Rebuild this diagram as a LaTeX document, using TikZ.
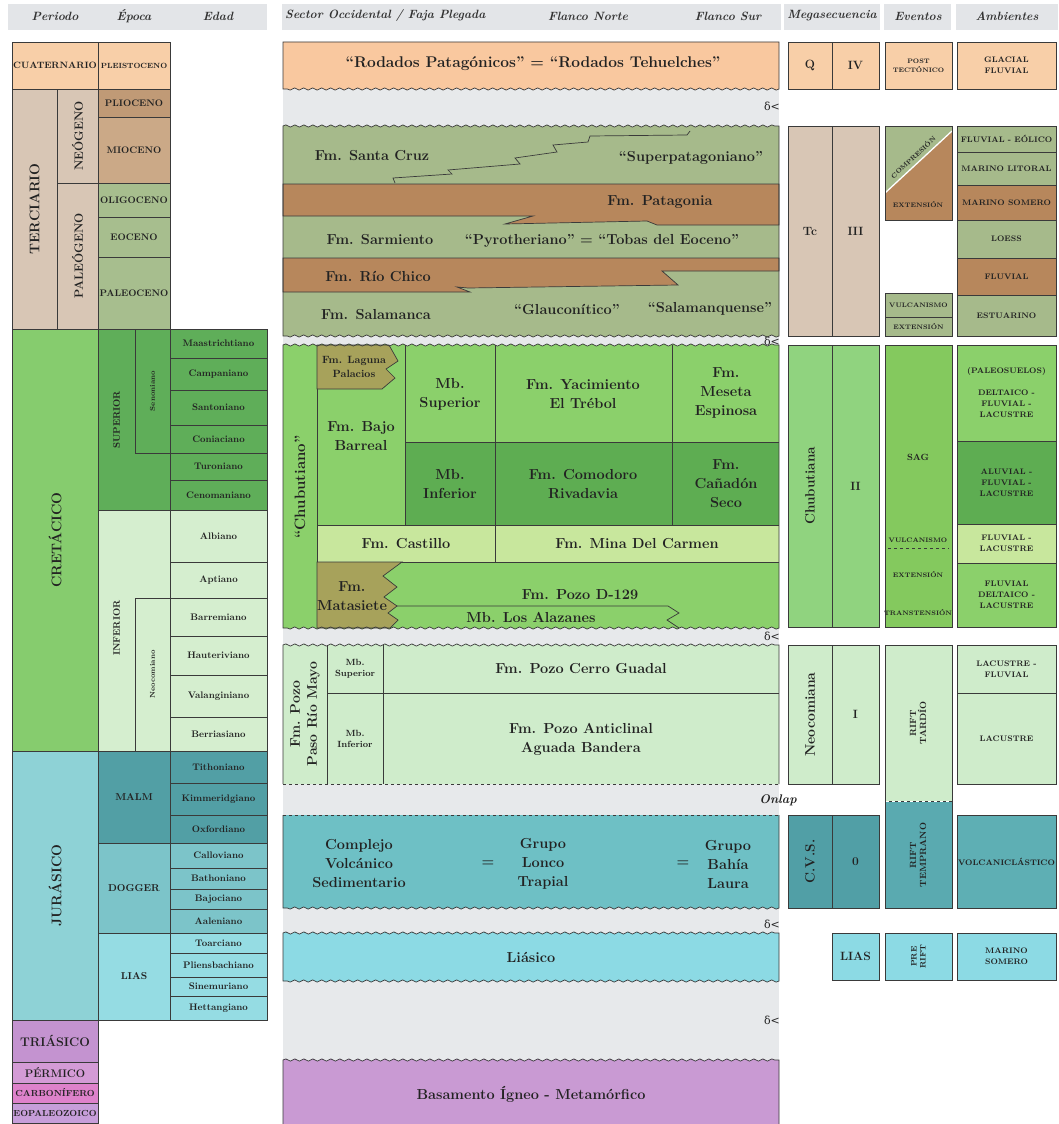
\documentclass[tikz,border=0pt]{standalone}
\usepackage{fontspec}
\newfontfamily\grk{DejaVu Serif}
\usetikzlibrary{decorations.pathmorphing}
\definecolor{cHdr}{HTML}{E3E5E8}
\definecolor{cHdrTxt}{HTML}{333333}
\definecolor{cGap}{HTML}{E7E9EB}
\definecolor{cPeach}{HTML}{F8CFA8}
\definecolor{cPeachB}{HTML}{F9C89F}
\definecolor{cTerc}{HTML}{D8C6B5}
\definecolor{cPlio}{HTML}{C09A76}
\definecolor{cMio}{HTML}{CBA987}
\definecolor{cPaleo}{HTML}{A7BE8E}
\definecolor{cTGreen}{HTML}{A6BA8B}
\definecolor{cTBrown}{HTML}{B7875C}
\definecolor{cCreta}{HTML}{86CC6E}
\definecolor{cSup}{HTML}{5FAE59}
\definecolor{cInf}{HTML}{D5EECF}
\definecolor{cChub}{HTML}{8BD06B}
\definecolor{cChubM}{HTML}{90D37F}
\definecolor{cChubD}{HTML}{5EAD52}
\definecolor{cChubL}{HTML}{C8E79D}
\definecolor{cSag}{HTML}{84C95E}
\definecolor{cKhaki}{HTML}{A7A25B}
\definecolor{cNeoc}{HTML}{CFECCB}
\definecolor{cJura}{HTML}{8ED2D6}
\definecolor{cMalm}{HTML}{529FA5}
\definecolor{cDogger}{HTML}{7CC4C9}
\definecolor{cLias}{HTML}{95DCE3}
\definecolor{cCvs}{HTML}{6EC0C5}
\definecolor{cCvsD}{HTML}{519FA6}
\definecolor{cRiftT}{HTML}{5AAAB0}
\definecolor{cVolc}{HTML}{5EAFB4}
\definecolor{cLiasB}{HTML}{8CDAE4}
\definecolor{cBasam}{HTML}{C99AD3}
\definecolor{cTrias}{HTML}{C493D0}
\definecolor{cPerm}{HTML}{D49BD6}
\definecolor{cCarb}{HTML}{DE82CB}
\definecolor{cEopal}{HTML}{C79EDA}
\definecolor{cInk}{HTML}{222222}
\definecolor{cEdge}{HTML}{3A3A3A}
\newcommand{\fz}[2]{\fontsize{#1}{#2}\selectfont}
\newcommand{\gcell}[8]{%
  \path[ln,fill=#6] (#2,#3) rectangle (#4,#5);
  \node[#7] (#1) at ({(#2+#4)/2},{(#3+#5)/2}) {#8};}
\tikzset{
  ln/.style={draw=cEdge,line width=0.7pt},
  wv/.style={decoration={snake,amplitude=1.1pt,segment length=9pt}},
  tx/.style={text=cInk,align=center,inner sep=0pt},
  hdr/.style={tx,text=cHdrTxt,font=\bfseries\itshape\fz{12}{14}},
  fA/.style={tx,font=\bfseries\fz{14.5}{19}},
  fLg/.style={tx,font=\bfseries\fz{10.5}{14}},
  fMbs/.style={tx,font=\bfseries\fz{9}{11}},
  fRot/.style={tx,font=\bfseries\fz{14}{17}},
  fEra/.style={tx,font=\bfseries\fz{14}{16}},
  fSub/.style={tx,font=\bfseries\fz{12}{14}},
  fEp/.style={tx,font=\bfseries\fz{9.5}{11}},
  fEpB/.style={tx,font=\bfseries\fz{10}{12}},
  fPl/.style={tx,font=\bfseries\fz{7.5}{9}},
  fCu/.style={tx,font=\bfseries\fz{9.2}{11}},
  fAge/.style={tx,font=\bfseries\fz{9.5}{11}},
  fTiny/.style={tx,font=\bfseries\fz{7}{8}},
  fTr/.style={tx,font=\bfseries\fz{12.5}{14}},
  fPe/.style={tx,font=\bfseries\fz{11}{13}},
  fCa/.style={tx,font=\bfseries\fz{8.8}{10}},
  fMs/.style={tx,font=\bfseries\fz{12}{14}},
  fMsR/.style={tx,font=\bfseries\fz{13.5}{15}},
  fEv/.style={tx,font=\bfseries\fz{6.5}{9}},
  fEvB/.style={tx,font=\bfseries\fz{9}{10}},
  fAm/.style={tx,font=\bfseries\fz{8}{11}},
  dl/.style={tx,font=\grk\fz{11}{13}},
}
\begin{document}
\begin{tikzpicture}[x=1pt,y=-1pt]
\useasboundingbox (0,0) rectangle (1058,1124);
\fill[white] (0,0) rectangle (1058,1124);
% ---------------- header
\fill[cHdr] (8,4) rectangle (267,30);
\fill[cHdr] (282,4) rectangle (781,30);
\fill[cHdr] (784,4) rectangle (880,30);
\fill[cHdr] (884,4) rectangle (951,30);
\fill[cHdr] (956,4) rectangle (1058,30);
\node[hdr] (hper) at (55,16) {Periodo};
\node[hdr] (hepo) at (134,16) {Época};
\node[hdr] (heda) at (218,16) {Edad};
\node[hdr,anchor=west] (hsec) at (285,16) {Sector Occidental / Faja Plegada};
\node[hdr] (hfn) at (588,16) {Flanco Norte};
\node[hdr] (hfs) at (728,16) {Flanco Sur};
\node[hdr] (hmeg) at (832,16) {Megasecuencia};
\node[hdr] (hev) at (918,16) {Eventos};
\node[hdr] (hamb) at (1007,16) {Ambientes};
% ---------------- left: time scale
\gcell{cuat}{12}{42}{98}{89}{cPeach}{fCu}{CUATERNARIO}
\gcell{pleis}{98}{42}{170}{89}{cPeach}{fPl}{PLEISTOCENO}
\gcell{terc}{12}{89}{57}{329}{cTerc}{fEra,rotate=90}{TERCIARIO}
\gcell{neog}{57}{89}{98}{183}{cTerc}{fSub,rotate=90}{NEÓGENO}
\gcell{paleog}{57}{183}{98}{329}{cTerc}{fSub,rotate=90}{PALEÓGENO}
\gcell{plio}{98}{89}{170}{117}{cPlio}{fEp}{PLIOCENO}
\gcell{mio}{98}{117}{170}{183}{cMio}{fEp}{MIOCENO}
\gcell{olig}{98}{183}{170}{217}{cPaleo}{fEp}{OLIGOCENO}
\gcell{eoc}{98}{217}{170}{257}{cPaleo}{fEp}{EOCENO}
\gcell{paleoc}{98}{257}{170}{329}{cPaleo}{fEp}{PALEOCENO}
\gcell{creta}{12}{329}{98}{751}{cCreta}{fEra,rotate=90}{CRETÁCICO}
\path[ln,fill=cSup] (98,329) rectangle (170,510);
\node[fEp,rotate=90] (sup) at (116.5,420) {SUPERIOR};
\gcell{seno}{135}{329}{170}{453}{cSup}{fTiny,rotate=90}{Senoniano}
\gcell{maas}{170}{329}{267}{358}{cSup}{fAge}{Maastrichtiano}
\gcell{camp}{170}{358}{267}{390}{cSup}{fAge}{Campaniano}
\gcell{sant}{170}{390}{267}{425}{cSup}{fAge}{Santoniano}
\gcell{coni}{170}{425}{267}{453}{cSup}{fAge}{Coniaciano}
\gcell{turo}{170}{453}{267}{480}{cSup}{fAge}{Turoniano}
\gcell{ceno}{170}{480}{267}{510}{cSup}{fAge}{Cenomaniano}
\path[ln,fill=cInf] (98,510) rectangle (170,751);
\node[fEp,rotate=90] (inf) at (116.5,628) {INFERIOR};
\gcell{neoco}{135}{598}{170}{751}{cInf}{fTiny,rotate=90}{Neocomiano}
\gcell{albi}{170}{510}{267}{562}{cInf}{fAge}{Albiano}
\gcell{apti}{170}{562}{267}{598}{cInf}{fAge}{Aptiano}
\gcell{barr}{170}{598}{267}{636}{cInf}{fAge}{Barremiano}
\gcell{haut}{170}{636}{267}{675}{cInf}{fAge}{Hauteriviano}
\gcell{vala}{170}{675}{267}{717}{cInf}{fAge}{Valanginiano}
\gcell{berr}{170}{717}{267}{751}{cInf}{fAge}{Berriasiano}
\gcell{jura}{12}{751}{98}{1020}{cJura}{fEra,rotate=90}{JURÁSICO}
\gcell{malm}{98}{751}{170}{843}{cMalm}{fEpB}{MALM}
\gcell{tith}{170}{751}{267}{783}{cMalm}{fAge}{Tithoniano}
\gcell{kimm}{170}{783}{267}{815}{cMalm}{fAge}{Kimmeridgiano}
\gcell{oxf}{170}{815}{267}{843}{cMalm}{fAge}{Oxfordiano}
\gcell{dogg}{98}{843}{170}{933}{cDogger}{fEpB}{DOGGER}
\gcell{call}{170}{843}{267}{868}{cDogger}{fAge}{Calloviano}
\gcell{bath}{170}{868}{267}{889}{cDogger}{fAge}{Bathoniano}
\gcell{bajo}{170}{889}{267}{909}{cDogger}{fAge}{Bajociano}
\gcell{aale}{170}{909}{267}{933}{cDogger}{fAge}{Aaleniano}
\gcell{liasl}{98}{933}{170}{1020}{cLias}{fEpB}{LIAS}
\gcell{toar}{170}{933}{267}{953}{cLias}{fAge}{Toarciano}
\gcell{plie}{170}{953}{267}{977}{cLias}{fAge}{Pliensbachiano}
\gcell{sine}{170}{977}{267}{996}{cLias}{fAge}{Sinemuriano}
\gcell{hett}{170}{996}{267}{1020}{cLias}{fAge}{Hettangiano}
\gcell{trias}{12}{1020}{98}{1062}{cTrias}{fTr}{TRIÁSICO}
\gcell{perm}{12}{1062}{98}{1083}{cPerm}{fPe}{PÉRMICO}
\gcell{carb}{12}{1083}{98}{1103}{cCarb}{fCa}{CARBONÍFERO}
\gcell{eopal}{12}{1103}{98}{1123}{cEopal}{fCa}{EOPALEOZOICO}
% ---------------- middle: gaps background
\fill[cGap] (283,86) rectangle (779,1064);
% Rodados
\path[ln,fill=cPeachB,wv] (283,42) -- (779,42) -- (779,89) decorate{-- (283,89)} -- cycle;
\node[fA,font=\bfseries\fz{15.5}{19}] (rodados) at (533,64) {“Rodados Patagónicos” = “Rodados Tehuelches”};
% Tertiary block
\path[fill=cTGreen,wv] (283,126) decorate{-- (779,126)} -- (779,336) decorate{-- (283,336)} -- cycle;
\path[ln,fill=cTBrown] (283,184) -- (779,184) -- (779,225) -- (657,225) -- (647,221) -- (505,224) -- (533,216) -- (283,216) -- cycle;
\path[ln,fill=cTBrown] (283,258) -- (779,258) -- (779,271) -- (662,271) -- (678,285) -- (468,288) -- (457,287) -- (470,292) -- (283,292) -- cycle;
\draw[ln] (395,183) -- (393,178) -- (452,174) -- (448,170) -- (520,164) -- (515,158) -- (557,152) -- (553,145) -- (588,142) -- (590,136) -- (687,135) -- (690,131);
\path[ln,wv] (283,126) decorate{-- (779,126)} -- (779,336) decorate{-- (283,336)} -- cycle;
\node[fA] (stacruz) at (372,156) {Fm. Santa Cruz};
\node[fA] (superpat) at (691,158) {“Superpatagoniano”};
\node[fA] (patag) at (660,202) {Fm. Patagonia};
\node[fA] (sarm) at (380,240) {Fm. Sarmiento};
\node[fA] (pyro) at (602,241) {“Pyrotheriano” = “Tobas del Eoceno”};
\node[fA] (rchico) at (378,276) {Fm. Río Chico};
\node[fA] (salam) at (376,315) {Fm. Salamanca};
\node[fA] (glauc) at (567,309) {“Glauconítico”};
\node[fA] (salq) at (710,309) {“Salamanquense”};
% Chubutiano block
\path[fill=cChub,wv] (283,345) decorate{-- (779,345)} -- (779,628) decorate{-- (283,628)} -- cycle;
\fill[cChubD] (405,442) rectangle (779,525);
\fill[cChubL] (317,525) rectangle (779,562);
\draw[ln] (317,345) -- (317,628);
\draw[ln] (405,345) -- (405,525);
\draw[ln] (495,345) -- (495,562);
\draw[ln] (672,345) -- (672,525);
\draw[ln] (405,442) -- (779,442);
\draw[ln] (317,525) -- (779,525);
\draw[ln] (317,562) -- (779,562);
\path[ln,fill=cKhaki] (317,345) -- (389,345) -- (398,361) -- (386,369) -- (395,378) -- (382,389) -- (317,389) -- cycle;
\path[ln,fill=cKhaki] (317,562) -- (402,562) -- (383,576) -- (397,587) -- (384,597) -- (397,606) -- (388,613) -- (398,620) -- (390,628) -- (317,628) -- cycle;
\draw[ln] (397,606) -- (668,606) -- (679,613) -- (667,620) -- (679,628);
\path[ln,wv] (283,345) decorate{-- (779,345)} -- (779,628) decorate{-- (283,628)} -- cycle;
\node[fRot,font=\bfseries\fz{15}{17},rotate=90] (chubo) at (300,487) {“Chubutiano”};
\node[fLg] (laguna) at (354,367) {Fm. Laguna\\Palacios};
\node[fA] (bajob) at (361,436) {Fm. Bajo\\Barreal};
\node[fA] (mbsup) at (450,394) {Mb.\\Superior};
\node[fA] (yac) at (583,394) {Fm. Yacimiento\\El Trébol};
\node[fA] (meseta) at (726,393) {Fm.\\Meseta\\Espinosa};
\node[fA] (mbinf) at (450,484) {Mb.\\Inferior};
\node[fA] (comod) at (583,484) {Fm. Comodoro\\Rivadavia};
\node[fA] (canadon) at (726,484) {Fm.\\Cañadón\\Seco};
\node[fA] (castillo) at (406,544) {Fm. Castillo};
\node[fA] (mina) at (637,544) {Fm. Mina Del Carmen};
\node[fA] (matas) at (352,596) {Fm.\\Matasiete};
\node[fA] (pozod) at (580,595) {Fm. Pozo D-129};
\node[fA] (alaz) at (531,617) {Mb. Los Alazanes};
% Neocomiano block
\path[fill=cNeoc,wv] (283,645) decorate{-- (779,645)} -- (779,784) -- (283,784) -- cycle;
\draw[ln] (327,645) -- (327,784);
\draw[ln] (383,645) -- (383,784);
\draw[ln] (327,693) -- (779,693);
\path[ln,wv] (283,784) -- (283,645) decorate{-- (779,645)} -- (779,784);
\draw[ln,dashed] (283,784) -- (779,784);
\node[fRot,rotate=90] (pasorm) at (305,714) {Fm. Pozo\\Paso Río Mayo};
\node[fMbs] (mbsup2) at (355,669) {Mb.\\Superior};
\node[fMbs] (mbinf2) at (355,739) {Mb.\\Inferior};
\node[fA] (cguadal) at (581,669) {Fm. Pozo Cerro Guadal};
\node[fA] (antic) at (581,739) {Fm. Pozo Anticlinal\\Aguada Bandera};
\node[tx,font=\bfseries\itshape\fz{12.5}{14}] (onlap) at (778,800) {Onlap};
% CVS block
\path[fill=cCvs,wv] (283,815) -- (779,815) -- (779,908) decorate{-- (283,908)} -- cycle;
\path[ln,wv] (779,815) -- (779,908) decorate{-- (283,908)} -- (283,815);
\draw[ln,dashed] (283,815) -- (779,815);
\node[fA] (cvs1) at (359,864) {Complejo\\Volcánico\\Sedimentario};
\node[fA] (eq1) at (488,864) {=};
\node[fA] (lonco) at (543,864) {Grupo\\Lonco\\Trapial};
\node[fA] (eq2) at (683,864) {=};
\node[fA] (bahia) at (728,864) {Grupo\\Bahía\\Laura};
% Liasico
\path[ln,fill=cLiasB,wv] (283,933) decorate{-- (779,933)} -- (779,981) decorate{-- (283,981)} -- cycle;
\node[fA] (liasico) at (531,957) {Liásico};
% Basamento
\path[ln,fill=cBasam,wv] (283,1124) -- (283,1060) decorate{-- (779,1060)} -- (779,1124);
\node[fA] (basam) at (531,1094) {Basamento Ígneo - Metamórfico};
% unconformity marks
\node[dl] (d1) at (772,106) {δ<};
\node[dl] (d2) at (772,341) {δ<};
\node[dl] (d3) at (772,636) {δ<};
\node[dl] (d4) at (772,924) {δ<};
\node[dl] (d5) at (772,1020) {δ<};
% ---------------- right columns
\gcell{q}{788}{42}{832}{89}{cPeach}{fMs}{Q}
\gcell{iv}{832}{42}{879}{89}{cPeach}{fMs}{IV}
\gcell{post}{885}{42}{952}{89}{cPeach}{fEv}{POST\\TECTÓNICO}
\gcell{glac}{957}{42}{1056}{89}{cPeach}{fAm}{GLACIAL\\FLUVIAL}
\gcell{tc}{788}{126}{832}{336}{cTerc}{fMs}{Tc}
\gcell{iii}{832}{126}{879}{336}{cTerc}{fMs}{III}
\fill[cTBrown] (885,126) rectangle (952,220);
\fill[cTGreen] (885,126) -- (952,126) -- (952,131) -- (885,193) -- cycle;
\draw[white,line width=1.3pt] (885,193) -- (952,131);
\draw[ln] (885,126) rectangle (952,220);
\node[fEv,rotate=43] (compr) at (913,157) {COMPRESIÓN};
\node[fEv] (ext1) at (918,205) {EXTENSIÓN};
\gcell{vulc1}{885}{293}{952}{317}{cTGreen}{fEv}{VULCANISMO}
\gcell{ext2}{885}{317}{952}{336}{cTGreen}{fEv}{EXTENSIÓN}
\gcell{amb1}{957}{126}{1056}{152}{cTGreen}{fAm}{FLUVIAL - EÓLICO}
\gcell{amb2}{957}{152}{1056}{185}{cTGreen}{fAm}{MARINO LITORAL}
\gcell{amb3}{957}{185}{1056}{220}{cTBrown}{fAm}{MARINO SOMERO}
\gcell{amb4}{957}{220}{1056}{258}{cTGreen}{fAm}{LOESS}
\gcell{amb5}{957}{258}{1056}{295}{cTBrown}{fAm}{FLUVIAL}
\gcell{amb6}{957}{295}{1056}{336}{cTGreen}{fAm}{ESTUARINO}
\gcell{chubna}{788}{345}{832}{627}{cChubM}{fMsR,rotate=90}{Chubutiana}
\gcell{ii}{832}{345}{879}{627}{cChubM}{fMs}{II}
\path[ln,fill=cSag] (885,345) rectangle (952,627);
\node[fEvB] (sag) at (918,457) {SAG};
\node[fEv] (vulc2) at (918,540) {VULCANISMO};
\draw[cEdge,dashed,line width=0.6pt] (888,548) -- (949,548);
\node[fEv] (ext3) at (918,575) {EXTENSIÓN};
\node[fEv] (trans) at (918,613) {TRANSTENSIÓN};
\gcell{amb7}{957}{345}{1056}{441}{cChub}{fAm}{(PALEOSUELOS)\\[11pt]DELTAICO -\\FLUVIAL -\\LACUSTRE}
\gcell{amb8}{957}{441}{1056}{524}{cChubD}{fAm}{ALUVIAL -\\FLUVIAL -\\LACUSTRE}
\gcell{amb9}{957}{524}{1056}{563}{cChubL}{fAm}{FLUVIAL -\\LACUSTRE}
\gcell{amb10}{957}{563}{1056}{627}{cChub}{fAm}{FLUVIAL\\DELTAICO -\\LACUSTRE}
\gcell{neocna}{788}{645}{832}{784}{cNeoc}{fMsR,font=\bfseries\fz{14}{16},rotate=90}{Neocomiana}
\gcell{i1}{832}{645}{879}{784}{cNeoc}{fMs}{I}
\path[ln,fill=cNeoc] (885,645) rectangle (952,801);
\path[ln,fill=cRiftT] (885,801) rectangle (952,908);
\draw[white,dashed,line width=0.8pt] (886,801) -- (951,801);
\node[fEvB,rotate=90] (rtard) at (918,723) {RIFT\\TARDÍO};
\node[fEvB,rotate=90] (rtemp) at (918,855) {RIFT\\TEMPRANO};
\gcell{amb11}{957}{645}{1056}{693}{cNeoc}{fAm}{LACUSTRE -\\FLUVIAL}
\gcell{amb12}{957}{693}{1056}{784}{cNeoc}{fAm}{LACUSTRE}
\gcell{cvsc}{788}{815}{832}{908}{cCvsD}{fMsR,rotate=90}{C.V.S.}
\gcell{zero}{832}{815}{879}{908}{cCvsD}{fMs}{0}
\gcell{amb13}{957}{815}{1056}{908}{cVolc}{fAm}{VOLCANICLÁSTICO}
\gcell{liasc}{832}{933}{879}{980}{cLiasB}{fMs}{LIAS}
\gcell{prerift}{885}{933}{952}{980}{cLiasB}{fEv,font=\bfseries\fz{8}{9},rotate=90}{PRE\\RIFT}
\gcell{amb14}{957}{933}{1056}{980}{cLiasB}{fAm}{MARINO\\SOMERO}
\end{tikzpicture}
\end{document}
